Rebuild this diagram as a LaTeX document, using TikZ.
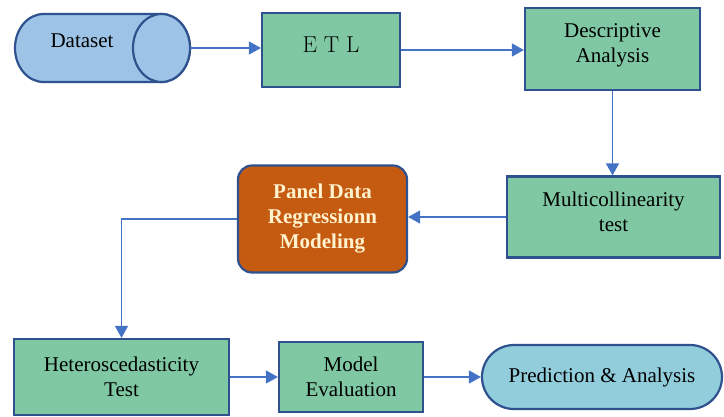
\documentclass[tikz,border=0pt]{standalone}
\usepackage{fontspec}
\newfontfamily\timesfont{Liberation Serif}
\usetikzlibrary{shapes.misc,arrows.meta}

\definecolor{boxgreen}{RGB}{127,200,163}
\definecolor{edgeblue}{RGB}{47,82,143}
\definecolor{arrowblue}{RGB}{68,114,196}
\definecolor{datablue}{RGB}{157,195,230}
\definecolor{predblue}{RGB}{146,205,220}
\definecolor{panelorange}{RGB}{197,90,17}
\definecolor{panelcream}{RGB}{255,242,204}

\tikzset{
  stepbox/.style={draw=edgeblue, line width=2.2pt, fill=boxgreen, align=center,
    inner sep=0pt, font=\timesfont\fontsize{21}{25}\selectfont},
  flow/.style={arrowblue, line width=1.4pt, -{Triangle[length=12pt,width=13pt]}},
}

\begin{document}
\begin{tikzpicture}[x=1pt,y=-1pt]
\useasboundingbox (0,0) rectangle (724,416);

% dataset drum, drawn lying on its side
\draw[draw=edgeblue, line width=2.2pt, fill=datablue] (43.5,14) -- (161.5,14)
  arc[start angle=90, end angle=-90, x radius=28.5pt, y radius=34pt]
  -- (43.5,82)
  arc[start angle=270, end angle=90, x radius=28.5pt, y radius=34pt] -- cycle;
\draw[draw=edgeblue, line width=2.2pt, fill=datablue] (161.5,48)
  ellipse[x radius=28.5pt, y radius=34pt];
\node[font=\timesfont\fontsize{21}{25}\selectfont] (data) at (82,41) {Dataset};
\coordinate (dataout) at (190,48);

% top row
\node[stepbox, minimum width=138pt, minimum height=74pt, text depth=10pt,
  font=\fontsize{23}{27}\selectfont] (etl) at (331,50) {E T L};
\node[stepbox, minimum width=175pt, minimum height=82pt, text depth=12pt]
  (desc) at (612.5,49) {Descriptive\\Analysis};

% middle row
\node[stepbox, minimum width=213pt, minimum height=81pt, text depth=10pt]
  (multi) at (613.5,217) {Multicollinearity\\test};
\node[stepbox, fill=panelorange, rounded corners=14pt, text=panelcream,
  minimum width=169pt, minimum height=107pt,
  font=\timesfont\bfseries\fontsize{21}{25}\selectfont] (panel) at (322.5,219)
  {Panel Data\\Regressionn\\Modeling};

% bottom row
\node[stepbox, minimum width=215pt, minimum height=76pt] (hetero) at (121.5,377)
  {Heteroscedasticity\\Test};
\node[stepbox, minimum width=144pt, minimum height=70pt] (model) at (351,377)
  {Model\\Evaluation};
\node[rounded rectangle, draw=edgeblue, line width=2.2pt, fill=predblue,
  minimum width=240pt, minimum height=64pt, inner sep=0pt,
  font=\timesfont\fontsize{21}{25}\selectfont] (pred) at (602,377)
  {Prediction \& Analysis};

% connectors
\draw[flow] (dataout) -- (dataout -| etl.west);
\draw[flow] (etl.east) -- (etl.east -| desc.west);
\draw[flow] (desc.south) -- (desc.south |- multi.north);
\draw[flow] (multi.west) -- (multi.west -| panel.east);
\draw[flow] (panel.west) -| (hetero.north);
\draw[flow] (hetero.east) -- (hetero.east -| model.west);
\draw[flow] (model.east) -- (model.east -| pred.west);
\end{tikzpicture}
\end{document}
